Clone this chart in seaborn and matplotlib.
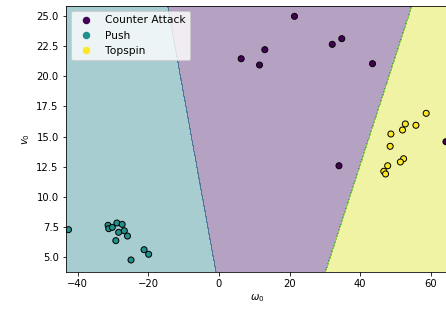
import matplotlib
matplotlib.use("Agg")
import matplotlib.pyplot as plt
from matplotlib.lines import Line2D
import numpy as np
import pandas as pd
import seaborn as sns

# stroke classes
classes = ["Counter Attack", "Push", "Topspin"]

# Counter Attack samples
counter_w = [6.3, 11.5, 13.0, 21.4, 32.1, 34.8, 43.5, 34.0, 64.3]
counter_v = [21.44, 20.92, 22.19, 24.95, 22.63, 23.10, 21.03, 12.58, 14.57]

# Push samples
push_w = [-42.6, -31.4, -31.2, -30.2, -28.9, -27.4, -28.4, -26.8, -29.2, -25.9, -21.2, -19.9, -24.9]
push_v = [7.29, 7.65, 7.37, 7.48, 7.84, 7.73, 7.07, 7.20, 6.38, 6.76, 5.63, 5.25, 4.78]

# Topspin samples
top_w = [58.7, 52.8, 52.0, 55.8, 48.7, 48.5, 52.3, 51.4, 47.8, 46.7, 47.2]
top_v = [16.92, 16.04, 15.54, 15.93, 15.21, 14.19, 13.16, 12.89, 12.58, 12.12, 11.90]

# linear decision boundaries (w at v_lo, w at v_hi)
v_lo, v_hi = 3.81, 25.83
push_counter_w = [-0.85, -14.53]
counter_top_w = [30.2, 54.67]

df = pd.DataFrame({
    "w": counter_w + push_w + top_w,
    "v": counter_v + push_v + top_v,
    "stroke": [classes[0]] * len(counter_w) + [classes[1]] * len(push_w) + [classes[2]] * len(top_w),
})

# mesh over the feature space
h = 0.1
xx, yy = np.meshgrid(np.arange(df.w.min() - 1, df.w.max() + 1, h),
                     np.arange(df.v.min() - 1, df.v.max() + 1, h))
t = (yy - v_lo) / (v_hi - v_lo)
line_a = push_counter_w[0] + t * (push_counter_w[1] - push_counter_w[0])
line_b = counter_top_w[0] + t * (counter_top_w[1] - counter_top_w[0])
Z = np.zeros_like(xx)
Z[xx < line_a] = 1
Z[xx > line_b] = 2

fig = plt.figure(figsize=(446 / 72, 311 / 72), dpi=72)
ax = fig.add_axes([0.1473, 0.1264, 0.8605, 0.8553])

ax.contourf(xx, yy, Z, alpha=0.4, cmap="viridis")

pal = [plt.cm.viridis(0.0), plt.cm.viridis(0.5), plt.cm.viridis(1.0)]
sns.scatterplot(data=df, x="w", y="v", hue="stroke", hue_order=classes, palette=pal,
                s=36, edgecolor="k", linewidth=1, ax=ax, legend=False)

ax.set_xlim(-43.4, 65.3)
ax.set_ylim(v_lo, v_hi)
ax.set_xlabel(r"$\omega_0$")
ax.set_ylabel(r"$v_0$")

handles = [Line2D([], [], marker="o", linestyle="", color=c, markersize=7.5, markeredgewidth=0)
           for c in pal]
ax.legend(handles, classes, loc="upper left", fontsize=10.6)

fig.savefig("out.png", dpi=72)
